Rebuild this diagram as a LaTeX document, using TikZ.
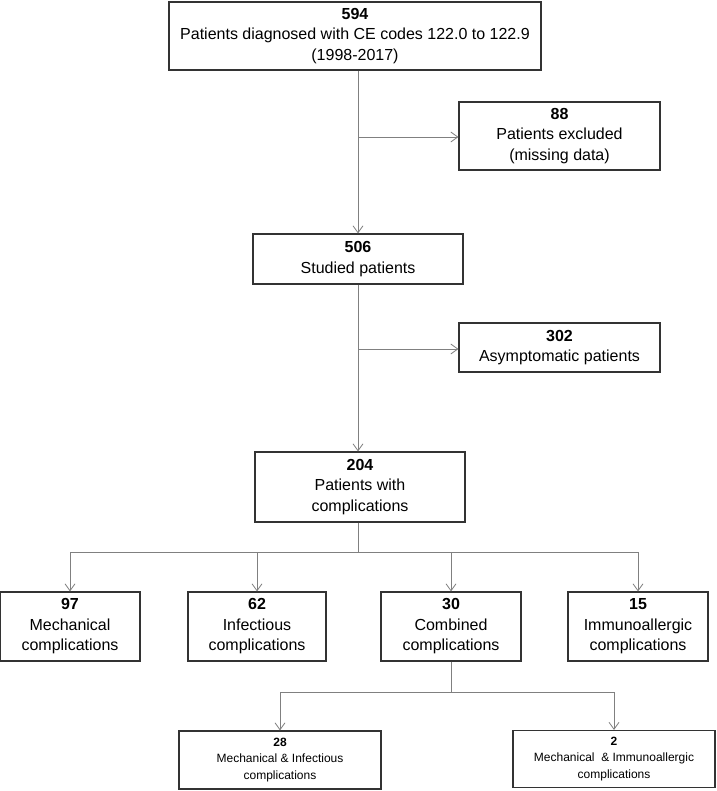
\documentclass[tikz,border=0pt]{standalone}
\usepackage{fontspec}
\setmainfont{Liberation Sans}
\usetikzlibrary{arrows.meta}
\definecolor{linegray}{HTML}{808080}
\definecolor{boxgray}{HTML}{333333}
\tikzset{
  box/.style={draw=boxgray, line width=1.1pt, fill=white, align=center, inner sep=2pt,
    font=\fontsize{16}{20.5}\selectfont, text=black},
  smallbox/.style={box, font=\fontsize{12}{16.5}\selectfont},
  conn/.style={draw=linegray, line width=0.9pt, -{Straight Barb[length=7pt,width=10pt,line width=0.8pt]}},
  plain/.style={draw=linegray, line width=0.9pt}
}
\begin{document}
\begin{tikzpicture}[x=1pt,y=-1pt]
\useasboundingbox[fill=white] (0,0) rectangle (716,791);

\node[box, minimum width=372pt, minimum height=68pt] (top) at (355,36)
  {\textbf{594}\\Patients diagnosed with CE codes 122.0 to 122.9\\(1998-2017)};
\node[box, minimum width=201pt, minimum height=68pt] (excl) at (559.5,136)
  {\textbf{88}\\Patients excluded\\(missing data)};
\node[box, minimum width=210pt, minimum height=50pt] (stud) at (358,259)
  {\textbf{506}\\Studied patients};
\node[box, minimum width=201pt, minimum height=49pt] (asym) at (559.5,347.5)
  {\textbf{302}\\Asymptomatic patients};
\node[box, minimum width=210pt, minimum height=70pt] (comp) at (360,487)
  {\textbf{204}\\Patients with\\complications};

\node[box, minimum width=140pt, minimum height=69pt] (mech) at (70,626.5)
  {\textbf{97}\\Mechanical\\complications};
\node[box, minimum width=138pt, minimum height=69pt] (inf) at (257,626.5)
  {\textbf{62}\\Infectious\\complications};
\node[box, minimum width=140pt, minimum height=69pt] (comb) at (451,626.5)
  {\textbf{30}\\Combined\\complications};
\node[box, minimum width=140pt, minimum height=69pt] (imm) at (638,626.5)
  {\textbf{15}\\Immunoallergic\\complications};

\node[smallbox, minimum width=202pt, minimum height=58pt] (mi) at (280,760)
  {\textbf{28}\\Mechanical \& Infectious\\complications};
\node[smallbox, minimum width=202pt, minimum height=57pt] (mim) at (614,759)
  {\textbf{2}\\Mechanical \ \& Immunoallergic\\complications};

\coordinate (b1) at (358,137);
\coordinate (b2) at (358,349);
\coordinate (h1) at (358,552);
\coordinate (h2) at (451,692);

\draw[conn] (top.south -| b1) -- (b1 |- stud.north);
\draw[conn] (b1) -- (b1 -| excl.west);
\draw[conn] (stud.south -| b2) -- (b2 |- comp.north);
\draw[conn] (b2) -- (b2 -| asym.west);
\draw[plain] (comp.south -| h1) -- (h1);
\foreach \n in {mech,inf,comb,imm} \draw[conn] (h1) -| (\n.north);
\draw[plain] (comb.south) -- (h2);
\foreach \n in {mi,mim} \draw[conn] (h2) -| (\n.north);
\end{tikzpicture}
\end{document}
